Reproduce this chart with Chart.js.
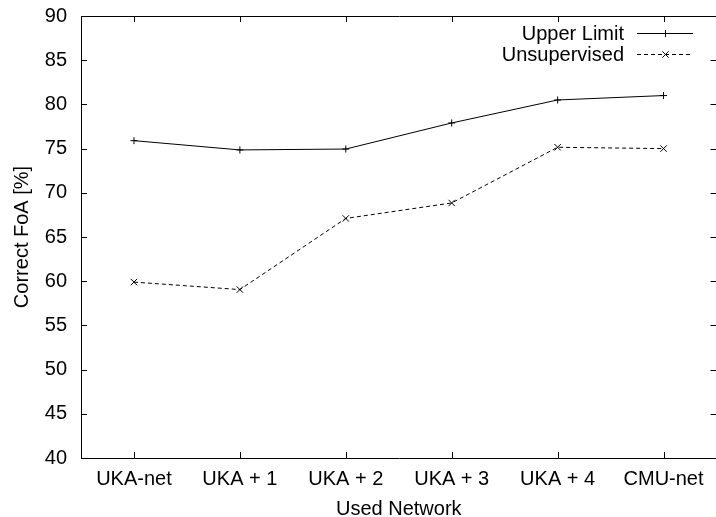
<!DOCTYPE html>
<html>
<head>
<meta charset="utf-8">
<script src="https://cdn.jsdelivr.net/npm/chart.js@4/dist/chart.umd.min.js"></script>
<style>
  html, body { margin: 0; padding: 0; background: #fff; overflow: hidden; }
  #chart { position: absolute; left: 0; top: 0; }
</style>
</head>
<body>
<canvas id="chart" width="722" height="521"></canvas>
<script>
// data
const networks = ["UKA-net", "UKA + 1", "UKA + 2", "UKA + 3", "UKA + 4", "CMU-net"];
const upperLimit = [75.9, 74.85, 74.95, 77.9, 80.5, 81.0];
const unsupervised = [59.9, 59.05, 67.1, 68.85, 75.15, 75.0];
const yMin = 40, yMax = 90, yStep = 5;

const FONT = "'Liberation Sans', Arial, Helvetica, sans-serif";
const SIZE = 20;
const TICK = 6;

// gnuplot-style box with inward ticks on all four sides
const framePlugin = {
    id: "frame",
    beforeDatasetsDraw(chart) {
        const { ctx, chartArea: a, scales } = chart;
        ctx.save();
        ctx.strokeStyle = "#000";
        ctx.lineWidth = 1;
        ctx.beginPath();
        ctx.rect(Math.round(a.left) + 0.5, Math.round(a.top) + 0.5,
                 Math.round(a.right - a.left), Math.round(a.bottom - a.top));
        scales.y.ticks.forEach(t => {
            const y = Math.round(scales.y.getPixelForValue(t.value)) + 0.5;
            ctx.moveTo(a.left, y); ctx.lineTo(a.left + TICK, y);
            ctx.moveTo(a.right, y); ctx.lineTo(a.right - TICK, y);
        });
        networks.forEach((n, i) => {
            const x = Math.round(scales.x.getPixelForTick(i)) + 0.5;
            ctx.moveTo(x, a.bottom); ctx.lineTo(x, a.bottom - TICK);
            ctx.moveTo(x, a.top); ctx.lineTo(x, a.top + TICK);
        });
        ctx.stroke();
        ctx.restore();
    }
};

// legend in the top right corner, text right aligned, sample to the right
const keyPlugin = {
    id: "key",
    afterDraw(chart) {
        const ctx = chart.ctx;
        const textRight = 624, x0 = 637, x1 = 693, rowY = [33, 54];
        ctx.save();
        ctx.font = SIZE + "px " + FONT;
        ctx.fillStyle = "#000";
        ctx.textAlign = "right";
        ctx.textBaseline = "middle";
        chart.data.datasets.forEach((ds, i) => {
            const y = rowY[i] + 0.5;
            ctx.fillText(ds.label, textRight, rowY[i] + 1);
            ctx.strokeStyle = "#000";
            ctx.lineWidth = 1;
            ctx.setLineDash(ds.borderDash || []);
            ctx.beginPath();
            ctx.moveTo(x0, y); ctx.lineTo(x1, y);
            ctx.stroke();
            ctx.setLineDash([]);
            const cx = (x0 + x1) / 2 + 0.5;
            ctx.beginPath();
            if (ds.pointStyle === "cross") {
                ctx.moveTo(cx - 3.5, y); ctx.lineTo(cx + 3.5, y);
                ctx.moveTo(cx, y - 3.5); ctx.lineTo(cx, y + 3.5);
            } else {
                ctx.moveTo(cx - 3.2, y - 3.2); ctx.lineTo(cx + 3.2, y + 3.2);
                ctx.moveTo(cx - 3.2, y + 3.2); ctx.lineTo(cx + 3.2, y - 3.2);
            }
            ctx.stroke();
        });
        ctx.restore();
    }
};

new Chart(document.getElementById("chart").getContext("2d"), {
    type: "line",
    data: {
        labels: networks,
        datasets: [{
            label: "Upper Limit",
            data: upperLimit,
            borderColor: "#000",
            backgroundColor: "#000",
            borderWidth: 1,
            pointStyle: "cross",
            pointRadius: 3.5,
            pointBorderWidth: 1,
            pointBorderColor: "#000",
            tension: 0,
            fill: false
        }, {
            label: "Unsupervised",
            data: unsupervised,
            borderColor: "#000",
            backgroundColor: "#000",
            borderWidth: 1,
            borderDash: [4, 3],
            pointStyle: "crossRot",
            pointRadius: 4.5,
            pointBorderWidth: 1,
            pointBorderColor: "#000",
            tension: 0,
            fill: false
        }]
    },
    options: {
        responsive: false,
        animation: false,
        layout: { padding: { top: 16, right: 3, bottom: 0, left: 0 } },
        plugins: {
            legend: { display: false },
            tooltip: { enabled: false }
        },
        scales: {
            x: {
                type: "category",
                offset: true,
                grid: { display: false, drawTicks: false },
                border: { display: false },
                ticks: { color: "#000", padding: 9, maxRotation: 0, autoSkip: false,
                         font: { family: FONT, size: SIZE } },
                title: { display: true, text: "Used Network", color: "#000",
                         padding: { top: 0, bottom: 0 }, font: { family: FONT, size: SIZE } },
                afterFit: s => { s.height = 63; s.paddingLeft = 0; s.paddingRight = 0; }
            },
            y: {
                min: yMin,
                max: yMax,
                grid: { display: false, drawTicks: false },
                border: { display: false },
                ticks: { stepSize: yStep, color: "#000", padding: 14,
                         font: { family: FONT, size: SIZE } },
                title: { display: true, text: "Correct FoA [%]", color: "#000",
                         padding: { top: 10, bottom: 0 }, font: { family: FONT, size: SIZE } },
                afterFit: s => { s.width = 81; s.paddingTop = 0; s.paddingBottom = 0; }
            }
        }
    },
    plugins: [framePlugin, keyPlugin]
});
</script>
</body>
</html>
